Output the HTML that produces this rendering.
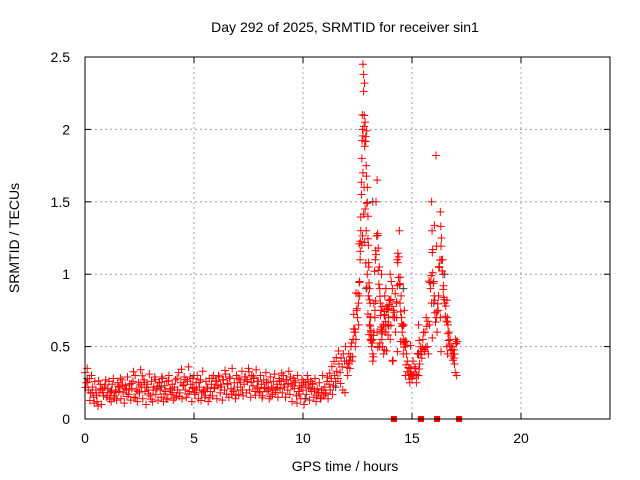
<!DOCTYPE html>
<html><head><meta charset="utf-8"><style>
body{margin:0;background:#fff}
svg{display:block;font-family:"Liberation Sans",sans-serif}
</style></head><body>
<svg id="chart" width="640" height="480" viewBox="0 0 640 480">
<rect width="640" height="480" fill="#fff"/>
<text x="345" y="32" font-size="14" text-anchor="middle">Day 292 of 2025, SRMTID for receiver sin1</text>
<text x="345" y="471" font-size="14" text-anchor="middle">GPS time / hours</text>
<text transform="translate(19,238) rotate(-90)" font-size="14" text-anchor="middle">SRMTID / TECUs</text>
<g id="grid"></g>
<g id="ticks"></g>
<g id="marks"></g>
<rect x="85" y="57" width="525" height="362" fill="none" stroke="#000"/>
</svg>
<script>
const xTicks=[0,5,10,15,20];
const yTicks=[0,0.5,1,1.5,2,2.5];
const yTickLabels=["0","0.5","1","1.5","2","2.5"];
const baseStart=0, baseStep=0.05;
const baseValues=[
0.32,0.25,0.35,0.2,0.28,0.18,0.3,0.22,0.15,0.26,0.2,0.12,0.09,0.18,0.24,0.1,0.2,0.16,0.22,0.27,
0.15,0.21,0.26,0.18,0.12,0.24,0.28,0.16,0.2,0.13,0.25,0.19,0.22,0.14,0.27,0.18,0.11,0.23,0.2,0.29,
0.17,0.24,0.13,0.21,0.26,0.15,0.3,0.2,0.12,0.25,0.18,0.34,0.22,0.14,0.27,0.19,0.1,0.24,0.2,0.31,
0.16,0.26,0.12,0.22,0.29,0.17,0.21,0.13,0.25,0.2,0.15,0.28,0.12,0.23,0.19,0.26,0.14,0.3,0.21,0.17,
0.24,0.13,0.22,0.27,0.16,0.2,0.32,0.18,0.25,0.14,0.23,0.29,0.2,0.15,0.26,0.36,0.19,0.24,0.12,0.28,
0.21,0.17,0.25,0.3,0.14,0.22,0.27,0.18,0.33,0.2,0.15,0.26,0.22,0.12,0.28,0.19,0.24,0.16,0.3,0.21,
0.26,0.14,0.23,0.29,0.18,0.22,0.13,0.27,0.2,0.31,0.17,0.24,0.15,0.28,0.21,0.35,0.19,0.25,0.14,0.3,
0.22,0.17,0.27,0.2,0.33,0.16,0.24,0.29,0.18,0.26,0.35,0.2,0.15,0.3,0.23,0.28,0.19,0.34,0.22,0.26,
0.18,0.3,0.24,0.16,0.27,0.21,0.32,0.19,0.25,0.14,0.29,0.22,0.17,0.26,0.31,0.2,0.24,0.15,0.28,0.21,
0.26,0.18,0.3,0.22,0.15,0.27,0.2,0.33,0.17,0.24,0.12,0.28,0.21,0.25,0.16,0.3,0.19,0.23,0.14,0.27,
0.2,0.1,0.25,0.17,0.3,0.22,0.13,0.26,0.19,0.24,0.15,0.28,0.12,0.21,0.18,0.25,0.14,0.2,0.3,0.16,
0.22,0.18,0.26,0.14,0.24,0.2,0.28,0.17,0.23,0.3,0.26,0.33,0.28,0.38,0.32,0.42,0.36,0.45,0.4,0.5
];
const stormHours=[12.0,12.05,12.1,12.15,12.2,12.25,12.3,12.35,12.4,12.45,12.5,12.55,12.6,12.62,12.65,12.68,12.7,12.72,12.75,12.78,12.8,12.82,12.85,12.88,12.9,12.92,12.95,12.98,13.0,13.02,13.05,13.08,13.1,13.12,13.15,13.2,13.22,13.25,13.3,13.32,13.35,13.4,13.42,13.45,13.5,13.52,13.55,13.58,13.6,13.62,13.65,13.7,13.72,13.75,13.8,13.85,13.9,13.92,13.95,14.0,14.05,14.1,14.15,14.2,14.25,14.3,14.32,14.35,14.4,14.42,14.45,14.5,14.52,14.55,14.6,14.62,14.65,14.7,14.75,14.8,14.85,14.9,14.95,15.0,15.05,15.1,15.15,15.2,15.25,15.3,15.35,15.4,15.45,15.5,15.55,15.6,15.65,15.7,15.75,15.8,15.85,15.9,15.92,15.95,16.0,16.02,16.05,16.1,16.12,16.15,16.2,16.22,16.25,16.3,16.32,16.35,16.4,16.42,16.45,16.5,16.55,16.6,16.62,16.65,16.7,16.75,16.8,16.85,16.9,16.92,16.95,17.0,17.02,17.05,
12.3,12.4,12.55,12.6,12.7,12.75,12.8,12.85,12.9,12.95,13.0,13.05,13.1,13.2,13.3,13.4,13.5,13.6,13.7,13.8,13.9,14.0,14.1,14.3,14.45,14.6,14.7,14.9,15.3,15.9,16.3,16.6,16.8];
const stormValues=[0.4,0.3,0.45,0.35,0.5,0.4,0.55,0.6,0.5,0.75,0.7,0.65,0.85,1.1,1.3,1.55,1.8,2.1,2.45,2.38,2.02,2.32,2.05,1.95,1.75,1.99,1.6,1.4,1.2,1.05,0.9,0.8,0.7,0.6,0.5,0.45,0.55,0.6,0.75,1.1,1.5,1.65,1.28,1.18,1.05,0.9,0.8,0.75,0.62,0.55,0.5,0.65,0.72,0.85,0.9,0.78,0.58,0.7,0.82,1.0,0.95,0.9,0.75,0.7,0.6,0.8,1.1,1.08,1.12,1.3,0.98,0.85,0.7,0.6,0.55,0.65,0.75,0.5,0.45,0.4,0.3,0.25,0.35,0.28,0.4,0.3,0.35,0.25,0.45,0.3,0.38,0.5,0.42,0.55,0.48,0.6,0.7,0.5,0.45,0.65,0.9,1.5,1.3,1.17,0.95,0.85,0.82,1.82,0.7,0.6,0.75,0.85,1.05,1.43,1.33,1.25,1.1,1.0,0.92,0.8,0.78,0.82,0.7,0.65,0.6,0.55,0.5,0.48,0.45,0.42,0.38,0.55,0.52,
0.3,0.55,0.6,0.8,0.95,1.2,1.7,1.6,1.45,1.3,1.0,0.85,0.65,0.55,0.4,0.7,0.6,0.5,1.0,0.45,0.6,0.65,0.55,0.4,0.7,0.8,0.45,0.3,0.35,0.65,0.8,0.7,0.5];
const blackHours=[0.1,1.2,3.5,5.0,7.9,10.1,11.5,12.9,13.2,13.8,14.6,15.3,16.0,16.5];
const blackValues=[0.28,0.2,0.22,0.3,0.26,0.14,0.22,0.9,1.5,0.65,0.9,0.45,0.8,1.0];
const gapHours=[14.17,15.41,16.15,17.16];
const X0=85,X1=608.2,XMAX=24,Y0=419,Y1=57,YMAX=2.5;
const xs=h=>X0+(X1-X0)*h/XMAX;
const ys=v=>Y0-(Y0-Y1)*v/YMAX;
const NS="http://www.w3.org/2000/svg";
function mk(tag,attrs,parent){const e=document.createElementNS(NS,tag);for(const k in attrs)e.setAttribute(k,attrs[k]);parent.appendChild(e);return e;}
const grid=document.getElementById('grid'),ticks=document.getElementById('ticks'),marks=document.getElementById('marks');
xTicks.forEach((t,i)=>{
  const x=xs(t);
  if(t>0){const g=mk('line',{x1:x,x2:x,y1:Y1,y2:Y0,stroke:'#a0a0a0','stroke-dasharray':'2,3'},grid);
  
  }
  const l=mk('line',{x1:x,x2:x,y1:Y0,y2:Y0-6,stroke:'#000'},ticks);
  
  
  const l2=mk('line',{x1:x,x2:x,y1:Y1,y2:Y1+6,stroke:'#000'},ticks);
  
  
  const tx=mk('text',{x:x,y:443,'font-size':14,'text-anchor':'middle'},ticks);tx.textContent=String(t);
  
  
});
yTicks.forEach((t,i)=>{
  const y=ys(t);
  if(t>0&&t<YMAX){const g=mk('line',{x1:X0,x2:610,y1:y,y2:y,stroke:'#a0a0a0','stroke-dasharray':'2,3'},grid);
  
  }
  const l=mk('line',{x1:X0,x2:X0+6,y1:y,y2:y,stroke:'#000'},ticks);
  
  
  const l2=mk('line',{x1:610,x2:604,y1:y,y2:y,stroke:'#000'},ticks);
  
  
  const tx=mk('text',{x:70,y:y+5,'font-size':14,'text-anchor':'end'},ticks);tx.textContent=yTickLabels[i];
  
  
});
function plus(h,v,color,name){
  const x=xs(h),y=ys(v);
  const p=mk('path',{d:`M${x-4},${y}h8M${x},${y-4}v8`,stroke:color,'stroke-width':1,fill:'none'},marks);
  
  
}
blackHours.forEach((h,i)=>plus(h,blackValues[i],'#333','black-point'));
baseValues.forEach((v,i)=>{const h=baseStart+i*baseStep;plus(h,v,'#f00','point');if(i%2===0)plus(h+0.025,baseValues[(i+7)%baseValues.length]*0.9+0.02,'#f00','point');});
stormHours.forEach((h,i)=>{plus(h,stormValues[i],'#f00','point');plus(h+0.03,stormValues[(i+3)%stormValues.length]*0.5+stormValues[i]*0.45,'#f00','point');});
gapHours.forEach(h=>{const r=mk('rect',{x:xs(h)-3,y:Y0-3,width:6,height:6,fill:'#f00'},marks);
  
  });
</script>
</body></html>
